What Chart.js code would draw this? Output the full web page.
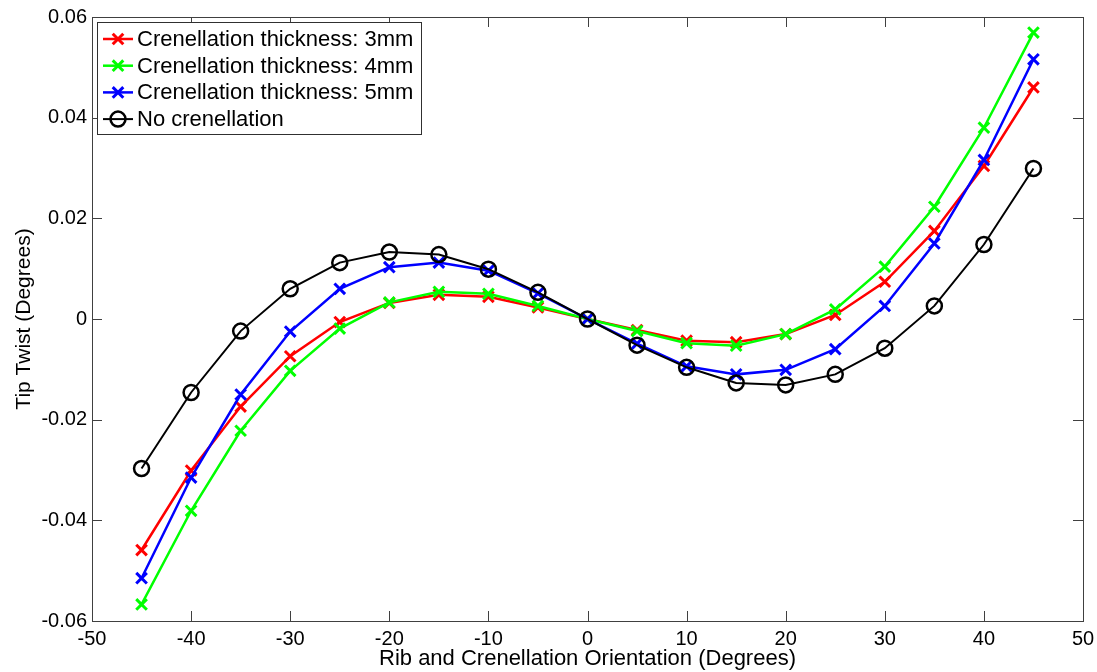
<!DOCTYPE html>
<html>
<head>
<meta charset="utf-8">
<script src="https://cdn.jsdelivr.net/npm/chart.js@4"></script>
<style>
  html, body { margin: 0; padding: 0; background: #fff; }
  #wrap { width: 1097px; height: 672px; }
</style>
</head>
<body>
<div id="wrap"><canvas id="twistChart"></canvas></div>
<script>
const orientation = [-45, -40, -35, -30, -25, -20, -15, -10, -5, 0, 5, 10, 15, 20, 25, 30, 35, 40, 45];
const twist3mm = [-0.0459, -0.0301, -0.0174, -0.0074, -0.0006, 0.0032, 0.0048, 0.0044, 0.0023, 0,
  -0.0022, -0.0043, -0.0046, -0.0030, 0.0008, 0.0074, 0.0175, 0.0304, 0.0460];
const twist4mm = [-0.0567, -0.0381, -0.0222, -0.0103, -0.0019, 0.0033, 0.0054, 0.0050, 0.0026, 0,
  -0.0024, -0.0048, -0.0053, -0.0030, 0.0019, 0.0104, 0.0223, 0.0380, 0.0569];
const twist5mm = [-0.0515, -0.0315, -0.0150, -0.0025, 0.0060, 0.0103, 0.0112, 0.0096, 0.0051, 0,
  -0.0049, -0.0094, -0.0110, -0.0101, -0.0060, 0.0026, 0.0150, 0.0316, 0.0516];
const twistNone = [-0.0297, -0.0146, -0.0024, 0.0060, 0.0112, 0.0133, 0.0128, 0.0099, 0.0053, 0,
  -0.0052, -0.0096, -0.0127, -0.0131, -0.0110, -0.0058, 0.0026, 0.0148, 0.0299];
const seriesLabels = ['Crenellation thickness: 3mm', 'Crenellation thickness: 4mm', 'Crenellation thickness: 5mm', 'No crenellation'];
const xTicks = [-50, 50, 10];   // min, max, step
const yTicks = [-0.06, 0.06, 0.02];

const toPoints = ys => orientation.map((x, i) => ({x: x, y: ys[i]}));

function crossSet(label, ys, color, order) {
  return {
    label: label, data: toPoints(ys), order: order,
    borderColor: color, borderWidth: 2.5,
    pointStyle: 'crossRot', pointRadius: 7.5, pointBorderWidth: 3,
    pointBorderColor: color, pointBackgroundColor: color
  };
}

// frame, inward ticks on all four sides, and a MATLAB-like legend box
const matlabAxes = {
  id: 'matlabAxes',
  afterDraw(chart) {
    const {ctx, chartArea: a, scales} = chart;
    ctx.save();
    ctx.strokeStyle = '#404040';
    ctx.lineWidth = 1;
    ctx.strokeRect(a.left + 0.5, a.top + 0.5, a.right - a.left, a.bottom - a.top);
    const len = 10;
    ctx.beginPath();
    scales.x.ticks.forEach(t => {
      const px = Math.round(scales.x.getPixelForValue(t.value)) + 0.5;
      ctx.moveTo(px, a.bottom); ctx.lineTo(px, a.bottom - len);
      ctx.moveTo(px, a.top); ctx.lineTo(px, a.top + len);
    });
    scales.y.ticks.forEach(t => {
      const py = Math.round(scales.y.getPixelForValue(t.value)) + 0.5;
      ctx.moveTo(a.left, py); ctx.lineTo(a.left + len, py);
      ctx.moveTo(a.right, py); ctx.lineTo(a.right - len, py);
    });
    ctx.stroke();

    // legend
    const bx = 97, by = 22, bw = 324, bh = 112;
    ctx.fillStyle = '#fff';
    ctx.fillRect(bx, by, bw, bh);
    ctx.strokeStyle = '#303030';
    ctx.strokeRect(bx + 0.5, by + 0.5, bw, bh);
    ctx.font = '22px "Liberation Sans", Arial, sans-serif';
    ctx.textBaseline = 'middle';
    ctx.textAlign = 'left';
    chart.data.datasets.forEach((ds, i) => {
      const cy = 39 + i * 26.7;
      ctx.strokeStyle = ds.borderColor;
      ctx.lineWidth = ds.borderWidth;
      ctx.beginPath();
      ctx.moveTo(103, cy); ctx.lineTo(133, cy);
      ctx.stroke();
      ctx.fillStyle = ds.pointBackgroundColor;
      ctx.lineWidth = ds.pointBorderWidth;
      Chart.helpers.drawPoint(ctx, {
        pointStyle: ds.pointStyle, radius: ds.pointRadius, borderWidth: ds.pointBorderWidth
      }, 118, cy);
      ctx.fillStyle = '#000';
      ctx.fillText(ds.label, 137, cy + 1);
    });
    ctx.restore();
  }
};

new Chart(document.getElementById('twistChart'), {
  type: 'line',
  data: {
    datasets: [
      crossSet(seriesLabels[0], twist3mm, '#ff0000', 4),
      crossSet(seriesLabels[1], twist4mm, '#00ff00', 3),
      crossSet(seriesLabels[2], twist5mm, '#0000ff', 2),
      {
        label: seriesLabels[3], data: toPoints(twistNone), order: 1,
        borderColor: '#000', borderWidth: 2,
        pointStyle: 'circle', pointRadius: 7.5, pointBorderWidth: 2.5,
        pointBorderColor: '#000', pointBackgroundColor: 'rgba(0,0,0,0)'
      }
    ]
  },
  options: {
    responsive: true,
    maintainAspectRatio: false,
    animation: false,
    layout: { padding: { top: 17, right: 14, left: 0, bottom: 0 } },
    plugins: { legend: { display: false }, tooltip: { enabled: false } },
    scales: {
      x: {
        type: 'linear', min: xTicks[0], max: xTicks[1],
        ticks: {
          stepSize: xTicks[2], padding: 6, color: '#000',
          font: { family: '"Liberation Sans", Arial, sans-serif', size: 20 }
        },
        grid: { display: false, drawTicks: false },
        border: { display: false },
        title: {
          display: true, text: 'Rib and Crenellation Orientation (Degrees)', color: '#000',
          font: { family: '"Liberation Sans", Arial, sans-serif', size: 22 },
          padding: { top: 0, bottom: 0 }
        },
        afterFit: s => { s.height = 51; s.paddingLeft = 0; s.paddingRight = 0; }
      },
      y: {
        min: yTicks[0], max: yTicks[1],
        ticks: {
          stepSize: yTicks[2], padding: 5, color: '#000',
          font: { family: '"Liberation Sans", Arial, sans-serif', size: 20 },
          callback: v => Math.abs(v) < 1e-9 ? '0' : v.toFixed(2)
        },
        grid: { display: false, drawTicks: false },
        border: { display: false },
        title: {
          display: true, text: 'Tip Twist (Degrees)', color: '#000',
          font: { family: '"Liberation Sans", Arial, sans-serif', size: 21 },
          padding: { top: 12, bottom: 0 }
        },
        afterFit: s => { s.width = 92; s.paddingTop = 0; s.paddingBottom = 0; }
      }
    }
  },
  plugins: [matlabAxes]
});
</script>
</body>
</html>
